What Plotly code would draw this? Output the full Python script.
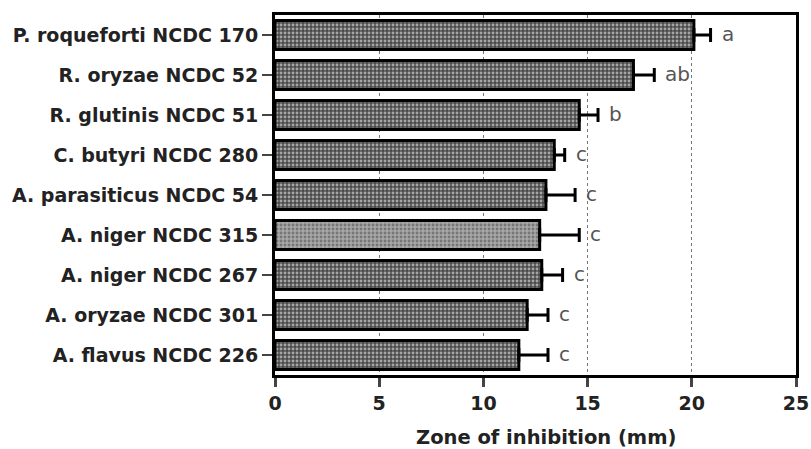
import plotly.graph_objects as go

strains = ["P. roqueforti NCDC 170", "R. oryzae NCDC 52", "R. glutinis NCDC 51",
           "C. butyri NCDC 280", "A. parasiticus NCDC 54", "A. niger NCDC 315",
           "A. niger NCDC 267", "A. oryzae NCDC 301", "A. flavus NCDC 226"]
zone_mm = [20.1, 17.2, 14.6, 13.4, 13.0, 12.7, 12.8, 12.1, 11.7]
sem_mm = [0.8, 1.0, 0.9, 0.5, 1.4, 1.9, 1.0, 1.0, 1.4]
letters = ["a", "ab", "b", "c", "c", "c", "c", "c", "c"]
x_ticks = [0, 5, 10, 15, 20, 25]

FONT = "DejaVu Sans, Verdana, sans-serif"

bg_colors = ["#4a4a4a"] * len(strains)
fg_colors = ["#d4d4d4"] * len(strains)
bg_colors[5] = "#a8a8a8"
fg_colors[5] = "#ececec"

fig = go.Figure()
fig.add_trace(go.Bar(
    y=strains, x=zone_mm, orientation="h",
    marker=dict(color=bg_colors, line=dict(color="black", width=3),
                pattern=dict(shape=".", fgcolor=fg_colors, size=4, solidity=0.42,
                             fillmode="overlay")),
    error_x=dict(type="data", array=sem_mm, arrayminus=[0]*len(sem_mm), symmetric=False,
                 color="black", thickness=3, width=7),
    width=0.72,
))

for s, v, e, t in zip(strains, zone_mm, sem_mm, letters):
    fig.add_annotation(x=v + e, y=s, text=t, showarrow=False, xanchor="left",
                       xshift=9, yshift=1,
                       font=dict(family=FONT, size=20, color="#555555"))

fig.add_annotation(x=0.5, y=0, xref="paper", yref="paper", yanchor="middle",
                   text="<b>Zone of inhibition (mm)</b>", showarrow=False,
                   xshift=10, yshift=-62,
                   font=dict(family=FONT, size=19.5, color="#222222"))

fig.update_layout(
    width=811, height=449,
    margin=dict(l=275, r=15, t=15, b=74),
    plot_bgcolor="white", paper_bgcolor="white",
    showlegend=False,
    font=dict(family=FONT, color="black"),
)
fig.update_xaxes(
    automargin=False,
    range=[0, 25], tickvals=x_ticks, ticks="outside", ticklen=9, tickwidth=3,
    showline=True, linecolor="black", linewidth=3, mirror=True,
    showgrid=True, gridcolor="#777777", griddash="dot", gridwidth=1,
    zeroline=False,
    tickfont=dict(size=19, family=FONT, weight="bold", color="#222222"),
)
fig.update_yaxes(
    automargin=False,
    categoryorder="array", categoryarray=strains, autorange="reversed",
    ticks="outside", ticklen=10, tickwidth=2,
    showline=True, linecolor="black", linewidth=3, mirror=True,
    showgrid=False,
    tickfont=dict(size=19, family=FONT, weight="bold", color="#222222"),
)

fig.write_html("out.html", config={"displayModeBar": False},
               post_script="document.body.style.margin='0';")
